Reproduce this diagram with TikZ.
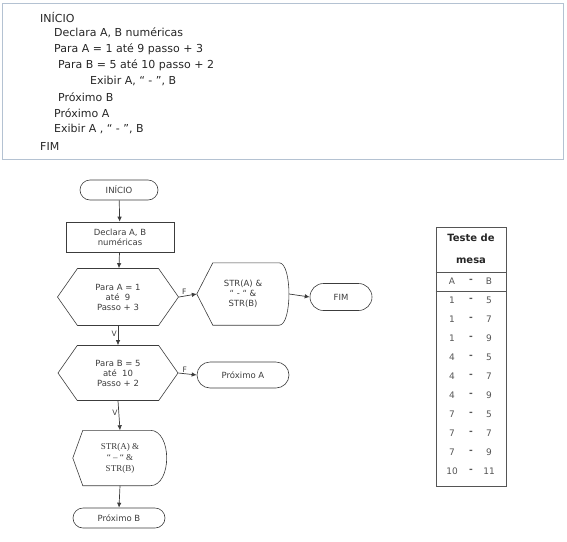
\documentclass[tikz,border=0pt]{standalone}
\usepackage{fontspec}
\setmainfont{DejaVu Sans}
\newfontfamily\serifstr{Liberation Serif}
\usetikzlibrary{shapes.symbols,shapes.misc,arrows.meta}
\definecolor{framecol}{HTML}{B4C2D2}
\definecolor{inkcol}{HTML}{3C3C3C}
\definecolor{tabcol}{HTML}{555555}

\begin{document}
\begin{tikzpicture}[x=1pt, y=-1pt,
    algtxt/.style={anchor=west, inner sep=0pt, text=black!85, font=\fontsize{11}{13}\selectfont},
    fluxo/.style={text=inkcol, align=center, font=\fontsize{8.5}{10}\selectfont},
    term/.style={fluxo, draw=inkcol, line width=0.6pt, rounded rectangle, inner sep=0pt},
    procbox/.style={fluxo, draw=inkcol, line width=0.6pt, rectangle, inner sep=0pt},
    hexa/.style={fluxo, draw=inkcol, line width=0.6pt, signal, signal to=west and east, signal pointer angle=110, inner sep=1pt},
    dispbox/.style={fluxo, inner sep=0pt},
    celula/.style={text=tabcol, inner sep=0pt, font=\fontsize{9}{11}\selectfont},
    rot/.style={text=inkcol, inner sep=1pt, font=\fontsize{7.5}{8}\selectfont},
    line/.style={-{Latex[length=5pt,width=4.5pt]}, draw=inkcol, line width=0.7pt}
]
\useasboundingbox (0,0) rectangle (567,541);

% algoritmo
\node[draw=framecol, line width=1.3pt, minimum width=561pt, minimum height=156pt, anchor=north west] (algo) at (2,3) {};
\foreach \x/\y/\txt [count=\i] in {40/17/{INÍCIO}, 54/33/{Declara A, B numéricas}, 54/49/{Para A = 1 até 9 passo + 3},
    58/65/{Para B = 5 até 10 passo + 2}, 90/81/{Exibir A, “ - ”, B}, 58/97/{Próximo B}, 54/113/{Próximo A},
    54/129/{Exibir A , “ - ”, B}, 40/146/{FIM}}
    \node[algtxt] (linha\i) at (\x,\y) {\txt};

% fluxograma
\node[term, minimum width=78pt, minimum height=20pt] (inicio) at (119,190) {INÍCIO};
\node[procbox, minimum width=108pt, minimum height=30pt] (declara) at (120,237) {Declara A, B\\numéricas};
\node[hexa, minimum width=121pt, minimum height=57pt] (paraA) at (118,297) {Para A = 1\\até \ 9\\Passo + 3};
\node[dispbox, minimum width=92pt, minimum height=62pt] (exibirA) at (243,294) {STR(A) \&\\“ - “ \&\\STR(B)};
\draw[inkcol, line width=0.6pt] ([xshift=16pt]exibirA.north west) -- (exibirA.west) -- ([xshift=16pt]exibirA.south west)
    -- ([xshift=-10pt]exibirA.south east)
    .. controls ([xshift=3pt]exibirA.south east) and ([xshift=3pt]exibirA.north east) .. ([xshift=-10pt]exibirA.north east)
    -- cycle;
\node[term, minimum width=62pt, minimum height=27pt] (fim) at (341,297) {FIM};
\node[hexa, minimum width=120pt, minimum height=55pt] (paraB) at (118,373) {Para B = 5\\até \ 10\\Passo + 2};
\node[term, minimum width=92pt, minimum height=26pt] (proxA) at (243,375) {Próximo A};
\node[dispbox, minimum width=94pt, minimum height=55pt, font=\serifstr\fontsize{9}{11}\selectfont] (exibirB) at (120,458) {STR(A) \&\\“ – “ \&\\STR(B)};
\draw[inkcol, line width=0.6pt] ([xshift=10pt]exibirB.north west) -- (exibirB.west) -- ([xshift=10pt]exibirB.south west)
    -- ([xshift=-17pt]exibirB.south east)
    .. controls ([xshift=5pt]exibirB.south east) and ([xshift=5pt]exibirB.north east) .. ([xshift=-17pt]exibirB.north east)
    -- cycle;
\node[term, minimum width=92pt, minimum height=20pt] (proxB) at (119,518) {Próximo B};

\draw[line] (inicio) -- (declara);
\draw[line] (declara) -- (paraA);
\draw[line] (paraA.east) -- node[rot, above, pos=0.3]{F} (exibirA.west);
\draw[line] (exibirA.east) -- (fim.west);
\draw[line] (paraA.south) -- node[rot, left, pos=0.4]{V} (paraB.north);
\draw[line] (paraB.east) -- node[rot, above, pos=0.35]{F} (proxA.west);
\draw[line] (paraB.south) -- node[rot, left, pos=0.4]{V} (exibirB.north);
\draw[line] (exibirB.south) -- (proxB.north);

% teste de mesa
\node[draw=tabcol, line width=0.8pt, minimum width=70pt, minimum height=259pt, inner sep=0pt] (mesa) at (471,356.5) {};
\node[text=black!85, align=center, font=\bfseries\fontsize{10}{22}\selectfont] (titulo) at (471,249) {Teste de\\mesa};
\draw[tabcol, line width=0.8pt] (mesa.west |- 0,272) -- (mesa.east |- 0,272);
\draw[tabcol, line width=0.8pt] (mesa.west |- 0,291) -- (mesa.east |- 0,291);
\node[celula] (colA) at (452,281) {A};
\node[celula] (colSep) at (471,281) {\textbf{-}};
\node[celula] (colB) at (489,281) {B};
\foreach \a/\b [count=\i] in {1/5,1/7,1/9,4/5,4/7,4/9,7/5,7/7,7/9,10/11} {
    \node[celula] (a\i) at (452,{281+19*\i}) {\a};
    \node[celula] (s\i) at (471,{281+19*\i}) {\textbf{-}};
    \node[celula] (b\i) at (489,{281+19*\i}) {\b};
}

\end{tikzpicture}
\end{document}
